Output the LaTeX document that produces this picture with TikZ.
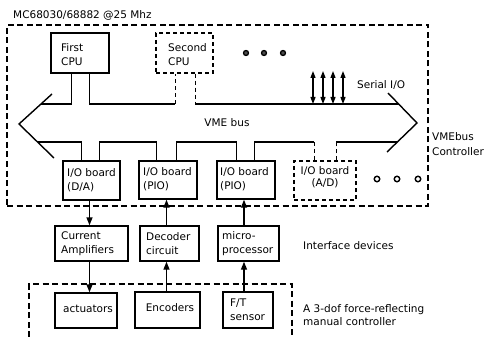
\documentclass[tikz,border=0pt]{standalone}
\usepackage{fontspec}
\setmainfont{DejaVu Sans}
\usetikzlibrary{arrows.meta}
\begin{document}
\begin{tikzpicture}[x=1pt,y=-1pt,
  box/.style={draw, rectangle, inner sep=0pt, line width=1.4pt},
  dbox/.style={box, dash pattern=on 4pt off 3pt},
  lbl/.style={font=\fontsize{10.5}{14}\selectfont, inner sep=0pt, align=left, anchor=west},
  wire/.style={line width=1.4pt},
  dwire/.style={line width=1.4pt, dash pattern=on 4pt off 3pt},
  frame/.style={line width=1.2pt, dash pattern=on 6pt off 3.5pt},
  arr/.style={wire, -{Triangle[length=8pt,width=6pt]}},
  darr/.style={line width=1.2pt, {Triangle[length=7pt,width=5pt]}-{Triangle[length=7pt,width=5pt]}},
  ]
\useasboundingbox (0,0) rectangle (488,337);

% controller enclosure and manual-controller enclosure
\node[frame, draw, rectangle, inner sep=0pt, minimum width=421pt, minimum height=181pt] (ctrl) at (217.5,115.5) {};
\coordinate (mA) at (29,337);
\coordinate (mB) at (29,284);
\coordinate (mC) at (292,284);
\coordinate (mD) at (292,337);
\draw[frame] (mA) -- (mB) -- (mC) -- (mD);

% processor boards
\node[box,  minimum width=58pt, minimum height=40pt] (cpu1) at (80,53) {};
\node[dbox, minimum width=57pt, minimum height=40pt] (cpu2) at (184.5,53) {};

% I/O boards
\node[box,  minimum width=57pt, minimum height=39pt] (io1) at (91.5,180.5) {};
\node[box,  minimum width=58pt, minimum height=38pt] (io2) at (168,180) {};
\node[box,  minimum width=58pt, minimum height=38pt] (io3) at (246,180) {};
\node[dbox, minimum width=62pt, minimum height=39pt] (io4) at (325,180.5) {};

% interface devices
\node[box, minimum width=73pt, minimum height=35pt] (amp) at (91.5,243.5) {};
\node[box, minimum width=59pt, minimum height=35pt] (dec) at (169.5,243.5) {};
\node[box, minimum width=61pt, minimum height=35pt] (mic) at (248.5,243.5) {};

% manual controller parts
\node[box, minimum width=62pt, minimum height=35pt] (act) at (86,310.5) {};
\node[box, minimum width=65pt, minimum height=36pt] (enc) at (167.5,310) {};
\node[box, minimum width=50pt, minimum height=36pt] (ft)  at (248,310) {};

% VME bus outline: arrow heads at both ends
\coordinate (Lt) at (19,124);
\coordinate (Lu) at (52,94);
\coordinate (Ld) at (54,158);
\coordinate (Rt) at (417,123);
\coordinate (Ru) at (388,93);
\coordinate (Rd) at (387,152);
\coordinate (Lts) at (41,104);
\coordinate (Lbs) at (37.5,142);
\coordinate (Rts) at (398.5,104);
\coordinate (Rbs) at (397,142);
\draw[wire] (Lu) -- (Lt) -- (Ld);
\draw[wire] (Ru) -- (Rt) -- (Rd);

% CPU taps on the upper edge of the bus
\coordinate (c1a) at ([xshift=21pt]cpu1.south west);
\coordinate (c1b) at ([xshift=39pt]cpu1.south west);
\coordinate (c2a) at ([xshift=20pt]cpu2.south west);
\coordinate (c2b) at ([xshift=40pt]cpu2.south west);
\draw[wire] (Lts) -| (c1a);
\draw[wire] (c1b) |- (c2a |- Lts);
\draw[dwire] (c2a |- Lts) -- (c2a);
\draw[dwire] (c2b) -- (c2b |- Lts);
\draw[wire] (c2b |- Lts) -- (Rts);

% I/O board taps on the lower edge of the bus
\coordinate (b1a) at ([xshift=19pt]io1.north west);
\coordinate (b1b) at ([xshift=37pt]io1.north west);
\coordinate (b2a) at ([xshift=18pt]io2.north west);
\coordinate (b2b) at ([xshift=38pt]io2.north west);
\coordinate (b3a) at ([xshift=20pt]io3.north west);
\coordinate (b3b) at ([xshift=38pt]io3.north west);
\coordinate (b4a) at ([xshift=21pt]io4.north west);
\coordinate (b4b) at ([xshift=43pt]io4.north west);
\draw[wire] (Lbs) -| (b1a);
\draw[wire] (b1b) |- (b2a |- Lbs) -- (b2a);
\draw[wire] (b2b) |- (b3a |- Lbs) -- (b3a);
\draw[wire] (b3b) |- (b4a |- Lbs);
\draw[dwire] (b4a |- Lbs) -- (b4a);
\draw[dwire] (b4b) -- (b4b |- Lbs);
\draw[wire] (b4b |- Lbs) -- (Rbs);

% serial I/O lines
\foreach \i/\x in {1/313,2/323,3/333,4/343}{
  \coordinate (s\i) at (\x,71);
  \draw[darr] (s\i) -- (s\i |- Rts);
}

% further boards
\foreach \i/\x in {1/246,2/264,3/283}{
  \node[circle, draw, fill=black!70, line width=1.3pt, inner sep=0pt, minimum size=5pt] (dt\i) at (\x,53) {};
}
\foreach \i/\x in {1/377,2/397,3/418}{
  \node[circle, draw, line width=1.4pt, inner sep=0pt, minimum size=5.5pt] (db\i) at (\x,179) {};
}

% signal paths
\coordinate (pA) at ([xshift=-2pt]io1.south);
\draw[arr] (pA) -- (pA |- amp.north);
\draw[arr] (pA |- amp.south) -- (pA |- act.north);
\coordinate (pB) at ([xshift=-1pt]enc.north);
\draw[arr] (pB) -- (pB |- dec.south);
\draw[arr] (pB |- dec.north) -- (pB |- io2.south);
\coordinate (pC) at ([xshift=-4pt]ft.north);
\draw[arr] (pC) -- (pC |- mic.south);
\draw[arr] (pC |- mic.north) -- (pC |- io3.south);

% texts
\node[lbl] (title) at (13,15) {MC68030/68882 @25 Mhz};
\node[lbl] (t1) at (61,55) {First\\CPU};
\node[lbl] (t2) at (168,55) {Second\\CPU};
\node[lbl] (tser) at (357,85) {Serial I/O};
\node[lbl, anchor=center] (tvme) at (227,123) {VME bus};
\node[lbl] (tio1) at (67,180) {I/O board\\(D/A)};
\node[lbl] (tio2) at (143,179) {I/O board\\(PIO)};
\node[lbl] (tio3) at (220,179) {I/O board\\(PIO)};
\node[lbl, align=center, anchor=center, font=\fontsize{10.5}{12}\selectfont] (tio4) at (325,177) {I/O board\\(A/D)};
\node[lbl, font=\fontsize{10.5}{15}\selectfont] (tctl) at (432,144.5) {VMEbus\\Controller};
\node[lbl] (tamp) at (61,244) {Current\\Amplifiers};
\node[lbl] (tdec) at (146,244) {Decoder\\circuit};
\node[lbl] (tmic) at (222,244) {micro-\\processor};
\node[lbl] (tact) at (63,309) {actuators};
\node[lbl, anchor=center] (tenc) at (170,308) {Encoders};
\node[lbl] (tft) at (230,309.5) {F/T\\sensor};
\node[lbl] (tifc) at (303,246) {Interface devices};
\node[lbl, font=\fontsize{10.5}{13}\selectfont] (tman) at (303,315.5) {A 3-dof force-reflecting\\manual controller};
\end{tikzpicture}
\end{document}
